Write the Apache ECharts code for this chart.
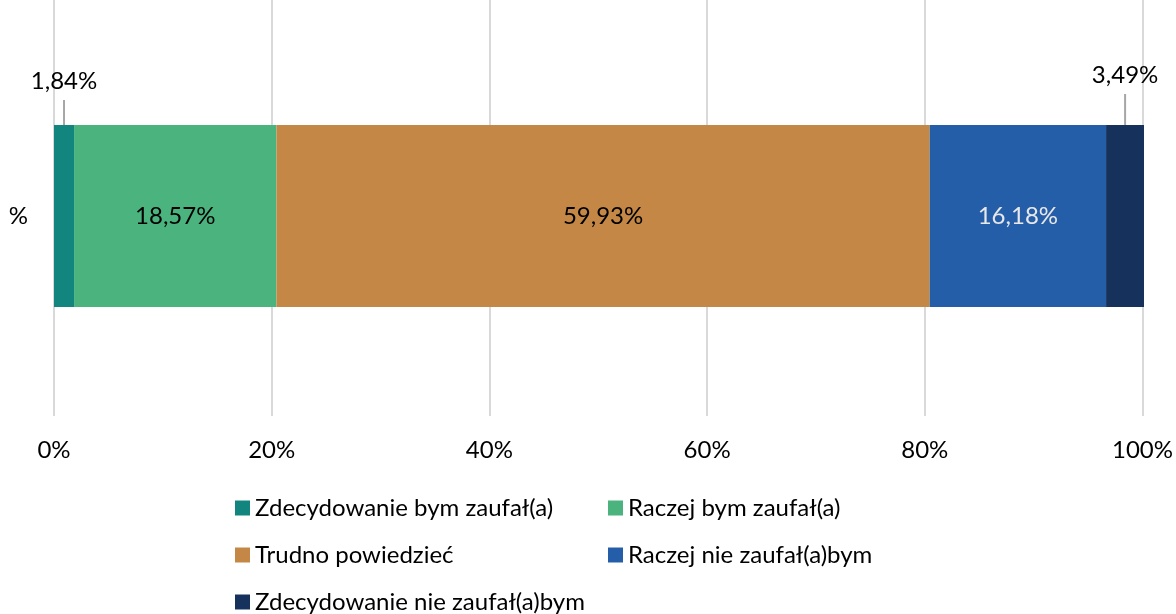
<!DOCTYPE html>
<html>
<head>
<meta charset="utf-8">
<script src="https://cdn.jsdelivr.net/npm/echarts@6/dist/echarts.min.js"></script>
<style>
html,body{margin:0;padding:0;background:#fff;}
#chart{width:1176px;height:614px;}
</style>
</head>
<body>
<div id="chart"></div>
<script>
// ---- data ----
const categories = ['%'];
const seriesNames = ['Zdecydowanie bym zaufał(a)', 'Raczej bym zaufał(a)', 'Trudno powiedzieć', 'Raczej nie zaufał(a)bym', 'Zdecydowanie nie zaufał(a)bym'];
const seriesValues = [1.84, 18.57, 59.93, 16.18, 3.49];
const xTicks = [0, 20, 40, 60, 80, 100];

// ---- style ----
const FONT = 'Lato';
const FS = 24;
const colors = ['#13857f', '#4ab37e', '#c48745', '#255ea8', '#16325c'];
const labelColors = ['#000', '#000', '#000', '#e8e8e8', '#000'];
const outsideIdx = [0, 4];
const outsideLift = { 0: 25, 4: 31 };
const BAR_W = 182;
// legend item placement [left, centerY]
const legendPos = [[235, 508], [608, 508], [235, 555], [608, 555], [235, 602]];

const fmt = v => v.toFixed(2).replace('.', ',') + '%';

// midpoints for outside labels (derived from data)
const starts = [];
let acc = 0;
seriesValues.forEach(v => { starts.push(acc); acc += v; });
const outsideData = outsideIdx.map(i => ({ value: [starts[i] + seriesValues[i] / 2, 0], idx: i }));

const series = seriesNames.map((name, i) => ({
  name,
  type: 'bar',
  stack: 'total',
  xAxisIndex: 1,
  yAxisIndex: 1,
  barWidth: BAR_W,
  itemStyle: { color: colors[i] },
  label: {
    show: outsideIdx.indexOf(i) < 0,
    position: 'inside',
    color: labelColors[i],
    fontFamily: FONT,
    fontSize: FS,
    formatter: p => fmt(p.value)
  },
  data: [seriesValues[i]]
}));

series.push({
  type: 'custom',
  xAxisIndex: 1,
  yAxisIndex: 1,
  silent: true,
  data: outsideData.map(d => d.value),
  renderItem: (params, api) => {
    const d = outsideData[params.dataIndex];
    const c = api.coord([api.value(0), 0]);
    const top = c[1] - BAR_W / 2;
    const lift = outsideLift[d.idx];
    return {
      type: 'group',
      children: [
        { type: 'line', shape: { x1: c[0], y1: top, x2: c[0], y2: top - lift }, style: { stroke: '#a6a6a6', lineWidth: 2 } },
        { type: 'text', x: c[0], y: top - lift - 19, style: { text: fmt(seriesValues[d.idx]), fill: '#000', font: FS + 'px ' + FONT, align: 'center', verticalAlign: 'middle' } }
      ]
    };
  }
});

const LH = 26;
const legends = seriesNames.map((name, i) => ({
  data: [name],
  orient: 'horizontal',
  left: legendPos[i][0],
  top: legendPos[i][1] - LH / 2,
  padding: 0,
  itemWidth: 15, itemHeight: 15,
  icon: 'rect', selectedMode: false,
  textStyle: { fontSize: FS, fontFamily: FONT, color: '#000', lineHeight: LH }
}));

const chart = echarts.init(document.getElementById('chart'));
chart.setOption({
  animation: false,
  textStyle: { fontFamily: FONT },
  grid: [
    { left: 54, right: 32, top: 0, height: 416 },
    { left: 54, right: 32, top: 16, height: 400 }
  ],
  xAxis: [
    {
      gridIndex: 0, type: 'value', min: xTicks[0], max: xTicks[xTicks.length - 1], interval: xTicks[1] - xTicks[0],
      axisLine: { show: false }, axisTick: { show: false },
      splitLine: { show: true, lineStyle: { color: '#d9d9d9', width: 2 } },
      axisLabel: { formatter: '{value}%', color: '#000', fontSize: FS, fontFamily: FONT, margin: 22 }
    },
    { gridIndex: 1, type: 'value', min: 0, max: 100, show: false }
  ],
  yAxis: [
    { gridIndex: 0, type: 'category', data: categories, show: false },
    {
      gridIndex: 1, type: 'category', data: categories,
      axisLine: { show: false }, axisTick: { show: false },
      axisLabel: { color: '#000', fontSize: FS, fontFamily: FONT, margin: 26 }
    }
  ],
  legend: legends,
  series
});
</script>
</body>
</html>
